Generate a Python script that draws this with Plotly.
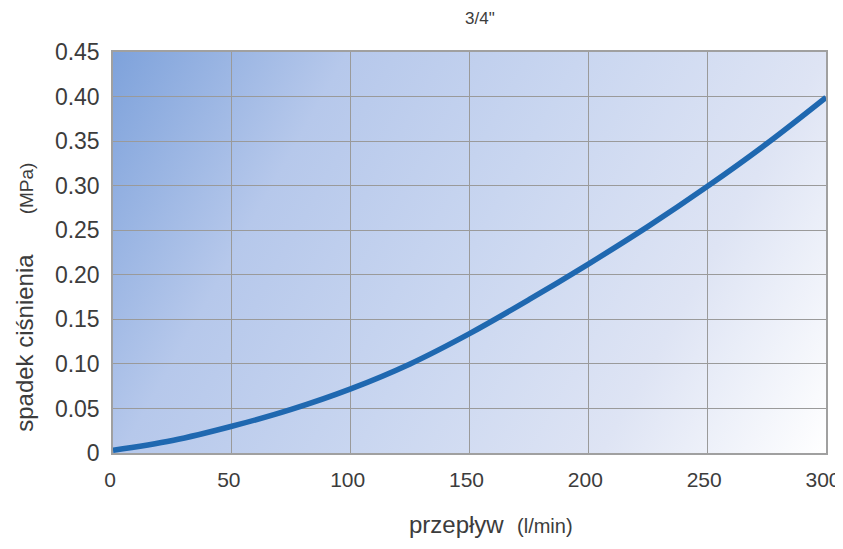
import base64
import plotly.graph_objects as go

# data
flow = [0, 25, 50, 75, 100, 125, 150, 175, 200, 225, 250, 275, 300]
pressure_drop = [0.003, 0.014, 0.030, 0.049, 0.072, 0.100, 0.134, 0.172, 0.212, 0.254, 0.299, 0.347, 0.399]

x_ticks = [0, 50, 100, 150, 200, 250, 300]
y_ticks = [0, 0.05, 0.10, 0.15, 0.20, 0.25, 0.30, 0.35, 0.40, 0.45]
y_tick_labels = ["0", "0.05", "0.10", "0.15", "0.20", "0.25", "0.30", "0.35", "0.40", "0.45"]

title_text = "3/4\""
x_title = "przepływ&nbsp;&nbsp;<span style='font-size:20px'>(l/min)</span>"
y_title = "spadek ciśnienia&nbsp;&nbsp;&nbsp;&nbsp;&nbsp;&nbsp;<span style='font-size:19px'>(MPa)</span>"

FONT = "Liberation Sans, Arial, sans-serif"
TXT = "#3c3c3c"

svg = """<svg xmlns='http://www.w3.org/2000/svg' width='710' height='400' viewBox='0 0 710 400' preserveAspectRatio='none'>
<defs><linearGradient id='g' gradientUnits='userSpaceOnUse' x1='0' y1='0' x2='710' y2='400'>
<stop offset='0' stop-color='#7ea2db'/>
<stop offset='0.25' stop-color='#b6c8eb'/>
<stop offset='0.5' stop-color='#c9d6f0'/>
<stop offset='0.76' stop-color='#dee4f4'/>
<stop offset='1' stop-color='#ffffff'/>
</linearGradient></defs>
<rect x='0' y='0' width='710' height='400' fill='url(#g)'/></svg>"""
src = "data:image/svg+xml;base64," + base64.b64encode(svg.encode()).decode()

fig = go.Figure()
fig.add_trace(go.Scatter(
    x=flow, y=pressure_drop, mode="lines",
    line=dict(color="#1f68b0", width=5.5, shape="spline", smoothing=1.0),
    hoverinfo="skip", showlegend=False,
))

fig.update_layout(
    width=843, height=549,
    margin=dict(l=105, r=25, t=44, b=104),
    paper_bgcolor="white", plot_bgcolor="rgba(0,0,0,0)",
    font=dict(family=FONT, color=TXT),
    images=[dict(source=src, xref="x", yref="y", x=0, y=0.45, sizex=300, sizey=0.45,
                 sizing="stretch", layer="below", xanchor="left", yanchor="top")],
    annotations=[
        dict(text=title_text, xref="paper", yref="paper", x=0.515, y=1, yshift=34,
             showarrow=False, font=dict(size=17, color=TXT, family=FONT), yanchor="middle"),
        dict(text=x_title, xref="paper", yref="paper", x=0.53, y=0, yshift=-71,
             showarrow=False, font=dict(size=24, color=TXT, family=FONT), yanchor="middle"),
        dict(text=y_title, xref="paper", yref="paper", x=0, xshift=-88, y=0.387,
             showarrow=False, textangle=-90, font=dict(size=24, color=TXT, family=FONT),
             xanchor="center", yanchor="middle"),
    ],
)
fig.update_xaxes(range=[0, 300], tickvals=x_ticks, ticks="", showgrid=True,
                 gridcolor="#9a9a9a", gridwidth=1, zeroline=False, automargin=False,
                 showline=True, linecolor="#a0a0a0", linewidth=1.5, mirror=True,
                 tickfont=dict(size=21, color=TXT, family=FONT), ticklabelstandoff=7,
                 ticklabelshift=-3)
fig.update_yaxes(range=[0, 0.45], tickvals=y_ticks, ticktext=y_tick_labels, ticks="",
                 showgrid=True, gridcolor="#9a9a9a", gridwidth=1, zeroline=False, automargin=False,
                 showline=True, linecolor="#a0a0a0", linewidth=1.5, mirror=True,
                 tickfont=dict(size=23, color=TXT, family=FONT), ticklabelstandoff=7)

fig.write_html("out.html")
